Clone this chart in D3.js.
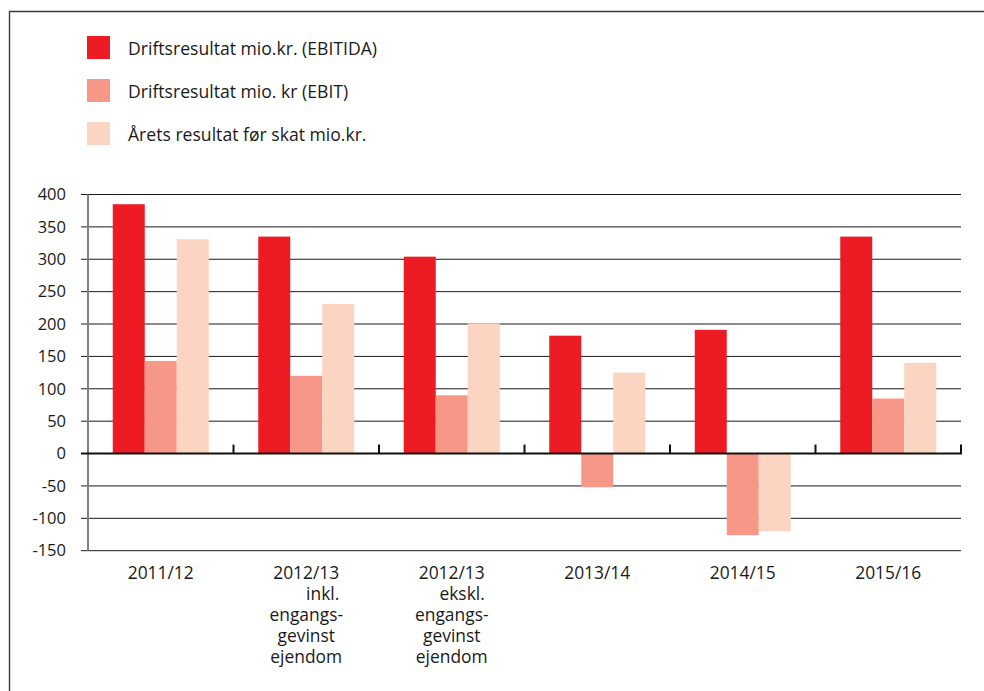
<!DOCTYPE html>
<html><head><meta charset="utf-8">
<script src="https://cdn.jsdelivr.net/npm/d3@7"></script>
<style>body{margin:0;background:#fff}svg{display:block;font-family:"Open Sans",sans-serif}</style>
</head><body><svg id="c" width="984" height="691"></svg>
<script>
// ---- data ----
const categories = ["2011/12", "2012/13\ninkl.\nengangs-\ngevinst\nejendom", "2012/13\nekskl.\nengangs-\ngevinst\nejendom", "2013/14", "2014/15", "2015/16"];
const seriesNames = ["Driftsresultat mio.kr. (EBITIDA)", "Driftsresultat mio. kr (EBIT)", "Årets resultat før skat mio.kr."];
const ebitda = [385, 335, 304, 182, 191, 335];
const ebit = [143, 120, 90, -52, -126, 85];
const preTax = [331, 231, 201, 125, -120, 140];
const yTicks = [-150, -100, -50, 0, 50, 100, 150, 200, 250, 300, 350, 400];
const colors = ["#ED1C24", "#F69788", "#FCD4C2"];

const series = [ebitda, ebit, preTax];
const svg = d3.select("#c");

// frame
svg.append("path").attr("d", "M9.5,691V11.5H984").attr("fill", "none").attr("stroke", "#3a3a3a").attr("stroke-width", 1.4);

// legend
const leg = svg.append("g");
seriesNames.forEach((n, i) => {
  const g = leg.append("g").attr("transform", `translate(87,${36 + i * 43})`);
  g.append("rect").attr("width", 23).attr("height", 23).attr("fill", colors[i]);
  g.append("text").attr("x", 41).attr("y", 18.5).attr("font-size", 17.6).attr("fill", "#1a1a1a").text(n);
});

// scales
const x0 = d3.scaleBand().domain(categories).range([88, 961]).paddingInner(0).paddingOuter(0);
const x1 = d3.scaleBand().domain(d3.range(series.length)).range([24.75, x0.bandwidth() - 24.75]);
const y = d3.scaleLinear().domain([-150, 400]).range([550.7, 194.5]);

// gridlines
svg.append("g").selectAll("line").data(yTicks.filter(d => d !== 0)).join("line")
  .attr("x1", 81).attr("x2", 961).attr("y1", d => y(d)).attr("y2", d => y(d))
  .attr("stroke", "#1a1a1a").attr("stroke-width", 1);

// y axis labels
svg.append("g").selectAll("text").data(yTicks).join("text")
  .attr("x", 66).attr("y", d => y(d)).attr("dy", "0.35em").attr("text-anchor", "end")
  .attr("font-size", 16.5).attr("fill", "#1a1a1a").text(d => d);

// bars
categories.forEach((c, ci) => {
  series.forEach((s, si) => {
    const v = s[ci];
    svg.append("rect")
      .attr("x", x0(c) + x1(si)).attr("width", x1.bandwidth())
      .attr("y", y(Math.max(0, v))).attr("height", Math.abs(y(v) - y(0)))
      .attr("fill", colors[si]);
  });
});

// y axis line
svg.append("line").attr("x1", 88).attr("x2", 88).attr("y1", y(400)).attr("y2", y(-150))
  .attr("stroke", "#808080").attr("stroke-width", 2);

// zero line
svg.append("line").attr("x1", 81).attr("x2", 962).attr("y1", y(0)).attr("y2", y(0))
  .attr("stroke", "#111").attr("stroke-width", 2);

// category ticks on zero line
svg.append("g").selectAll("line").data(categories.slice(1).map(c => x0(c)).concat([x0.range()[1]])).join("line")
  .attr("x1", d => d).attr("x2", d => d).attr("y1", y(0) - 9).attr("y2", y(0))
  .attr("stroke", "#111").attr("stroke-width", 2);

// x labels
categories.forEach(c => {
  const cx = x0(c) + x0.bandwidth() / 2;
  const lines = c.split("\n");
  const t = svg.append("text").attr("font-size", 17.4).attr("fill", "#1a1a1a").attr("text-anchor", "middle");
  const tspans = lines.map((l, i) => t.append("tspan").attr("x", cx).attr("y", 579.3 + i * 20.8).text(l));
  if (lines.length > 1) {
    const w0 = tspans[0].node().getComputedTextLength();
    tspans[1].attr("text-anchor", "end").attr("x", cx + w0 / 2);
  }
});
</script></body></html>
